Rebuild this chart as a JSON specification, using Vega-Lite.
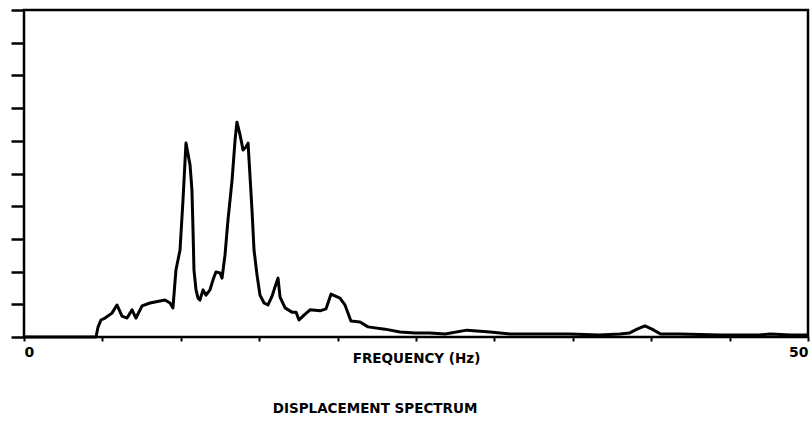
{
  "$schema": "https://vega.github.io/schema/vega-lite/v6.json",
  "width": 784,
  "height": 327,
  "autosize": {"type": "none"},
  "padding": {"left": 24, "top": 10, "right": 4, "bottom": 85},
  "background": "white",
  "config": {
    "view": {"stroke": "black", "strokeWidth": 2.5},
    "font": "DejaVu Sans"
  },
  "title": {
    "text": "DISPLACEMENT SPECTRUM",
    "orient": "bottom",
    "anchor": "middle",
    "dx": -41,
    "offset": 37,
    "font": "DejaVu Sans",
    "fontSize": 13.5,
    "fontWeight": "bold",
    "color": "black"
  },
  "data": {
    "values": [
      {"f": 0, "v": 0}, {"f": 4.59, "v": 0}, {"f": 4.72, "v": 0.3}, {"f": 4.91, "v": 0.52},
      {"f": 5.17, "v": 0.58}, {"f": 5.61, "v": 0.73}, {"f": 5.93, "v": 0.98}, {"f": 6.25, "v": 0.64},
      {"f": 6.57, "v": 0.58}, {"f": 6.89, "v": 0.83}, {"f": 7.14, "v": 0.58}, {"f": 7.53, "v": 0.95},
      {"f": 8.04, "v": 1.04}, {"f": 8.67, "v": 1.1}, {"f": 8.99, "v": 1.13}, {"f": 9.31, "v": 1.04},
      {"f": 9.5, "v": 0.89}, {"f": 9.69, "v": 2.05}, {"f": 9.95, "v": 2.66}, {"f": 10.14, "v": 4.19},
      {"f": 10.33, "v": 5.93}, {"f": 10.59, "v": 5.26}, {"f": 10.71, "v": 4.5}, {"f": 10.78, "v": 3.27},
      {"f": 10.84, "v": 2.05}, {"f": 10.97, "v": 1.44}, {"f": 11.1, "v": 1.19}, {"f": 11.22, "v": 1.13},
      {"f": 11.42, "v": 1.44}, {"f": 11.61, "v": 1.28}, {"f": 11.86, "v": 1.44}, {"f": 12.05, "v": 1.74},
      {"f": 12.24, "v": 1.99}, {"f": 12.5, "v": 1.96}, {"f": 12.63, "v": 1.8}, {"f": 12.82, "v": 2.51},
      {"f": 13.01, "v": 3.58}, {"f": 13.27, "v": 4.8}, {"f": 13.46, "v": 6.02}, {"f": 13.58, "v": 6.57},
      {"f": 13.78, "v": 6.18}, {"f": 13.97, "v": 5.72}, {"f": 14.16, "v": 5.81}, {"f": 14.29, "v": 5.93},
      {"f": 14.41, "v": 4.95}, {"f": 14.54, "v": 3.88}, {"f": 14.67, "v": 2.66}, {"f": 14.86, "v": 1.9},
      {"f": 15.05, "v": 1.28}, {"f": 15.31, "v": 1.04}, {"f": 15.56, "v": 0.98}, {"f": 15.82, "v": 1.25},
      {"f": 16.07, "v": 1.62}, {"f": 16.2, "v": 1.8}, {"f": 16.33, "v": 1.22}, {"f": 16.65, "v": 0.89},
      {"f": 17.09, "v": 0.76}, {"f": 17.35, "v": 0.76}, {"f": 17.54, "v": 0.52}, {"f": 17.86, "v": 0.67},
      {"f": 18.24, "v": 0.83}, {"f": 18.88, "v": 0.8}, {"f": 19.26, "v": 0.86}, {"f": 19.58, "v": 1.31},
      {"f": 20.15, "v": 1.19}, {"f": 20.47, "v": 0.98}, {"f": 20.85, "v": 0.49}, {"f": 21.43, "v": 0.46},
      {"f": 21.94, "v": 0.31}, {"f": 23.02, "v": 0.24}, {"f": 23.98, "v": 0.15}, {"f": 24.94, "v": 0.12},
      {"f": 25.89, "v": 0.12}, {"f": 26.85, "v": 0.09}, {"f": 28.25, "v": 0.21}, {"f": 29.72, "v": 0.15},
      {"f": 31.0, "v": 0.09}, {"f": 32.9, "v": 0.09}, {"f": 34.8, "v": 0.09}, {"f": 36.7, "v": 0.06},
      {"f": 38.0, "v": 0.09}, {"f": 38.6, "v": 0.12}, {"f": 39.1, "v": 0.24}, {"f": 39.6, "v": 0.34},
      {"f": 40.05, "v": 0.24}, {"f": 40.6, "v": 0.09}, {"f": 41.8, "v": 0.09}, {"f": 44.4, "v": 0.06},
      {"f": 46.9, "v": 0.06}, {"f": 47.6, "v": 0.09}, {"f": 48.9, "v": 0.06}, {"f": 50, "v": 0.06}
    ]
  },
  "mark": {"type": "line", "color": "black", "strokeWidth": 3, "strokeJoin": "round"},
  "encoding": {
    "x": {
      "field": "f",
      "type": "quantitative",
      "scale": {"domain": [0, 50], "nice": false, "zero": false},
      "axis": {
        "title": "FREQUENCY (Hz)",
        "values": [0, 5, 10, 15, 20, 25, 30, 35, 40, 45, 50],
        "labelExpr": "datum.value == 0 || datum.value == 50 ? datum.label : ''",
        "grid": false,
        "domain": false,
        "tickColor": "black",
        "tickWidth": 2,
        "tickSize": 4,
        "labelFont": "DejaVu Sans",
        "labelFontWeight": "bold",
        "labelFontSize": 14,
        "labelColor": "black",
        "labelPadding": 4,
        "labelFlush": true,
        "titleFont": "DejaVu Sans",
        "titleFontWeight": "bold",
        "titleFontSize": 13.5,
        "titleColor": "black",
        "titleBaseline": "top",
        "titleY": 14
      }
    },
    "y": {
      "field": "v",
      "type": "quantitative",
      "scale": {"domain": [0, 10], "nice": false},
      "axis": {
        "title": null,
        "values": [0, 1, 2, 3, 4, 5, 6, 7, 8, 9, 10],
        "labels": false,
        "grid": false,
        "domain": false,
        "tickColor": "black",
        "tickWidth": 2.5,
        "tickSize": 13
      }
    }
  }
}
